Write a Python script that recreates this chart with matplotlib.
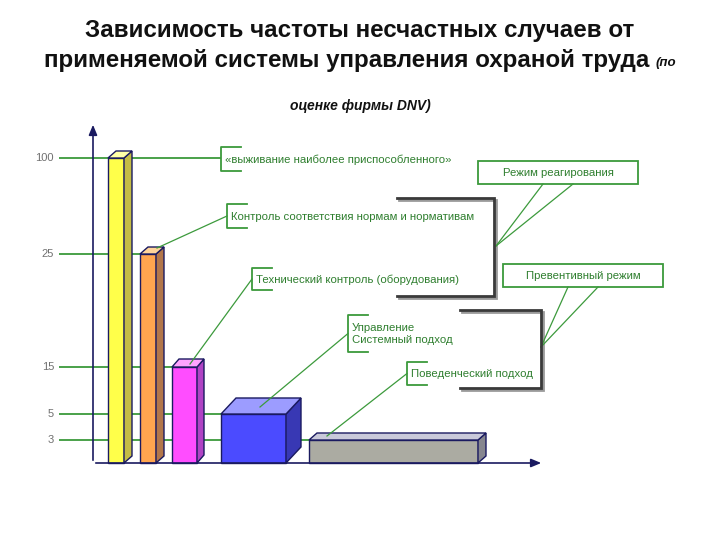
import numpy as np
import matplotlib
matplotlib.use("Agg")
import matplotlib.pyplot as plt
from matplotlib.patches import Polygon, Rectangle

# ---- data ----
categories = ["Режим выживания", "Нормы и нормативы", "Технический контроль",
              "Системный подход", "Поведенческий подход"]
values = [100, 25, 15, 5, 3]
tick_values = [100, 25, 15, 5, 3]
tick_labels = ["100", "25", "15", "5", "3"]
box_labels = ["«выживание наиболее приспособленного»",
              "Контроль соответствия нормам и нормативам",
              "Технический контроль (оборудования)",
              "Управление\nСистемный подход",
              "Поведенческий подход"]
mode_labels = ["Режим реагирования", "Превентивный режим"]

# ---- style / layout ----
front_cols = ["#FFFF4A", "#FFA54F", "#FF4DFF", "#4B4BFF", "#ABABA2"]
side_cols = ["#C4BC45", "#B2764A", "#B043C4", "#3838B4", "#86868F"]
top_cols = ["#FFFFA8", "#FFD49A", "#FFA3FF", "#9C9CFF", "#C9C9DA"]
bar_left = [108, 140, 172, 221, 309]
bar_width = [16, 16, 25, 65, 169]
bar_depth = [(8, 7), (8, 7), (7, 8), (15, 16), (8, 7)]
GREEN = "#3C9A3C"
TXT_GREEN = "#2F7F2F"

# non-linear value axis (pixels above baseline for each value)
_v = np.array([0, 3, 5, 15, 25, 100], float)
_p = np.array([0, 23, 49, 96, 209, 305], float)
_s_hi = (_p[-1] - _p[-2]) / (_v[-1] - _v[-2])
_s_lo = _p[1] / _v[1]


def fwd(v):
    v = np.asarray(v, float)
    out = np.interp(v, _v, _p)
    out = np.where(v > _v[-1], _p[-1] + (v - _v[-1]) * _s_hi, out)
    out = np.where(v < 0, v * _s_lo, out)
    return out


def inv(p):
    p = np.asarray(p, float)
    out = np.interp(p, _p, _v)
    out = np.where(p > _p[-1], _v[-1] + (p - _p[-1]) / _s_hi, out)
    out = np.where(p < 0, p / _s_lo, out)
    return out


W, H = 720, 540
BASE = 463
fig = plt.figure(figsize=(7.2, 5.4), dpi=100)
fig.patch.set_facecolor("white")

ax = fig.add_axes([0, 0, 1, 1])
ax.set_yscale("function", functions=(fwd, inv))
ax.set_xlim(0, W)
ax.set_ylim(float(inv(-(H - BASE))), float(inv(BASE)))
ax.axis("off")

ov = fig.add_axes([0, 0, 1, 1], zorder=5)
ov.set_xlim(0, W)
ov.set_ylim(H, 0)
ov.axis("off")
ov.patch.set_alpha(0)


def to_px(x, v):
    d = ax.transData.transform((x, v))
    return d[0], H - d[1] * 100.0 / fig.dpi


fig.canvas.draw()

# grid lines from tick labels
for tv, tl, i in zip(tick_values, tick_labels, range(len(values))):
    xe = 221 if tv == 100 else bar_left[i] + 3
    ax.hlines(tv, 59, xe, color=GREEN, lw=1.3, zorder=1)
    ax.text(54, tv, tl, ha="right", va="center", fontsize=8,
            color="#707070", family="Liberation Sans")

# bars (front faces)
ax.bar(bar_left, values, width=bar_width, bottom=0, align="edge",
       color=front_cols, edgecolor="#1A1A60", lw=1.0, zorder=3)

# 3D side/top faces
for x0, w, v, (dx, dy), sc, tc in zip(bar_left, bar_width, values, bar_depth,
                                        side_cols, top_cols):
    xl, yt = to_px(x0, v)
    xr, yb = to_px(x0 + w, 0)
    side = Polygon([(xr, yb), (xr + dx, yb - dy), (xr + dx, yt - dy), (xr, yt)],
                   closed=True, fc=sc, ec="#1A1A60", lw=1.0, zorder=3)
    top = Polygon([(xl, yt), (xl + dx, yt - dy), (xr + dx, yt - dy), (xr, yt)],
                  closed=True, fc=tc, ec="#1A1A60", lw=1.0, zorder=3)
    ov.add_patch(side)
    ov.add_patch(top)

# axes arrows
ov.annotate("", xy=(93, 122), xytext=(93, BASE),
            arrowprops=dict(arrowstyle="-|>,head_length=0.6,head_width=0.25",
                            color="#1A1A60", lw=1.2), zorder=2)
ov.annotate("", xy=(544, BASE), xytext=(93, BASE),
            arrowprops=dict(arrowstyle="-|>,head_length=0.6,head_width=0.25",
                            color="#1A1A60", lw=1.2), zorder=2)

# bracket boxes with labels
bboxes = [(221, 147, 171), (227, 204, 228), (252, 268, 290),
          (348, 315, 352), (407, 362, 385)]
anchors = [None, (157, 248), (190, 364), (260, 407), (327, 436)]
for (bx, by0, by1), lab, anc in zip(bboxes, box_labels, anchors):
    ov.plot([bx + 20, bx, bx, bx + 20], [by0, by0, by1, by1],
            color=GREEN, lw=1.3, zorder=6)
    ov.text(bx + 4, (by0 + by1) / 2 + 0.5, lab, ha="left", va="center",
            fontsize=8.2, color=TXT_GREEN, family="Liberation Sans",
            linespacing=1.35, zorder=6)
    if anc is not None:
        ov.plot([bx, anc[0]], [(by0 + by1) / 2, anc[1]], color=GREEN,
                lw=0.9, zorder=6)

# black group brackets with shadow
groups = [(397, 494, 198, 296), (460, 541, 310, 388)]
for x0, x1, y0, y1 in groups:
    ov.plot([x0 + 2, x1 + 2, x1 + 2, x0 + 2], [y0 + 2, y0 + 2, y1 + 2, y1 + 2],
            color="#9A9A9A", lw=2.0, zorder=6, solid_joinstyle="miter")
    ov.plot([x0, x1, x1, x0], [y0, y0, y1, y1], color="#3A3A3A", lw=2.0,
            zorder=7, solid_joinstyle="miter")

# mode boxes
modes = [(478, 638, 161, 184), (503, 663, 264, 287)]
mode_tips = [(496, 246), (541, 347)]
mode_feet = [(543, 573), (568, 598)]
for (x0, x1, y0, y1), lab, tip, feet in zip(modes, mode_labels, mode_tips, mode_feet):
    ov.add_patch(Rectangle((x0, y0), x1 - x0, y1 - y0, fc="white",
                           ec=GREEN, lw=1.3, zorder=6))
    ov.text((x0 + x1) / 2, (y0 + y1) / 2 + 0.5, lab, ha="center", va="center",
            fontsize=8.2, color=TXT_GREEN, family="Liberation Sans", zorder=7)
    for fx in feet:
        ov.plot([fx, tip[0]], [y1, tip[1]], color=GREEN, lw=0.9, zorder=6)

# title
ov.text(360, 31, "Зависимость частоты несчастных случаев от", ha="center",
        va="center", fontsize=17.4, fontweight="bold", family="Liberation Sans",
        color="#111111")
ov.text(347, 61, "применяемой системы управления охраной труда", ha="center",
        va="center", fontsize=17.4, fontweight="bold", family="Liberation Sans",
        color="#111111")
ov.text(656, 63, "(по", ha="left", va="center", fontsize=9.5, fontweight="bold",
        fontstyle="italic", family="Liberation Sans", color="#111111")
ov.text(360, 106, "оценке фирмы DNV)", ha="center", va="center", fontsize=10,
        fontweight="bold", fontstyle="italic", family="Liberation Sans",
        color="#111111")

fig.savefig("out.png", dpi=100)
